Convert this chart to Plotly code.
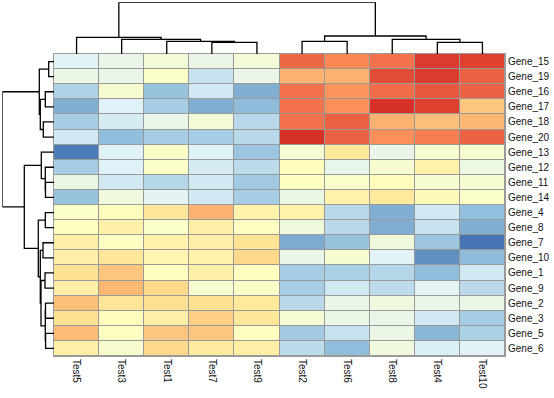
import plotly.graph_objects as go

# ---------------- data ----------------
tests = ["Test5", "Test3", "Test1", "Test7", "Test9",
         "Test2", "Test6", "Test8", "Test4", "Test10"]
genes = ["Gene_15", "Gene_19", "Gene_16", "Gene_17", "Gene_18", "Gene_20",
         "Gene_13", "Gene_12", "Gene_11", "Gene_14", "Gene_4", "Gene_8",
         "Gene_7", "Gene_10", "Gene_1", "Gene_9", "Gene_2", "Gene_3",
         "Gene_5", "Gene_6"]

values = [
    [1.4, 1.8, 2.3, 1.8, 2.3, 7.0, 6.4, 6.8, 7.8, 7.7],     # Gene_15
    [1.9, 1.8, 2.8, 0.8, 1.8, 5.6, 5.6, 7.5, 7.8, 7.1],     # Gene_19
    [0.3, 2.5, -0.2, 1.0, -0.7, 6.8, 6.2, 6.9, 7.3, 7.1],   # Gene_16
    [-0.7, 1.3, 0.1, -0.7, -0.4, 6.8, 6.3, 8.0, 7.7, 5.2],  # Gene_17
    [0.1, 1.1, 1.8, 2.3, 0.5, 6.8, 7.1, 5.6, 5.3, 5.5],     # Gene_18
    [1.0, -0.35, 0.1, 0.1, 0.5, 8.0, 7.1, 6.3, 6.6, 7.1],   # Gene_20
    [-1.8, 1.3, 2.8, 1.3, -0.1, 2.4, 4.3, 1.8, 2.5, 2.5],   # Gene_13
    [0.1, 1.3, 2.8, 1.1, 0.6, 3.1, 1.7, 2.5, 3.7, 2.0],     # Gene_12
    [1.9, 1.0, 0.4, 1.0, 0.0, 2.9, 2.7, 3.1, 2.5, 2.5],     # Gene_11
    [-0.2, 2.1, 1.5, 1.0, 0.1, 1.9, 3.7, 4.2, 3.3, 2.8],    # Gene_14
    [2.8, 3.1, 4.3, 5.6, 3.7, 3.7, 0.5, -0.7, 1.0, -0.3],   # Gene_4
    [3.0, 3.8, 2.8, 3.9, 2.9, 2.1, 0.5, -0.75, 0.8, -0.7],  # Gene_8
    [3.9, 2.9, 3.7, 3.9, 4.5, -0.8, -0.2, 2.2, -0.1, -2.0], # Gene_7
    [3.9, 4.3, 3.5, 3.7, 4.8, 1.8, 2.5, 1.4, -1.4, -0.4],   # Gene_10
    [4.6, 5.2, 3.0, 3.8, 3.0, 0.1, 0.2, 0.4, -0.35, 1.0],   # Gene_1
    [3.9, 5.5, 4.8, 2.5, 2.8, 0.1, 1.0, 0.6, 1.5, 0.5],     # Gene_9
    [5.3, 4.4, 4.6, 4.6, 4.2, 0.5, 1.8, 2.1, 1.8, 1.9],     # Gene_2
    [4.6, 3.1, 3.9, 5.0, 4.3, 2.4, 1.9, 1.8, 1.0, 0.1],     # Gene_3
    [5.4, 2.9, 5.2, 5.2, 3.0, 0.0, 0.8, 1.9, -0.5, 0.2],    # Gene_5
    [3.9, 2.6, 4.8, 4.1, 3.9, 0.6, -0.35, 2.1, 1.2, 1.4],   # Gene_6
]

# hierarchical clustering merges: (left, right, height); ints refer to earlier merges
col_merges = [
    ("Test7", "Test9", 11.7),
    ("Test4", "Test10", 11.7),
    ("Test1", 0, 12.7),
    ("Test2", "Test6", 12.7),
    ("Test3", 2, 14.7),
    ("Test8", 1, 14.7),
    ("Test5", 4, 16.7),
    (3, 5, 18.0),
    (6, 7, 51.7),
]
row_merges = [
    ("Gene_15", "Gene_19", 5.3),
    ("Gene_16", "Gene_17", 8.7),
    ("Gene_18", "Gene_20", 10.7),
    (1, 2, 13.7),
    (0, 3, 14.7),
    ("Gene_11", "Gene_14", 8.5),
    ("Gene_12", 5, 8.7),
    ("Gene_13", 6, 12.7),
    ("Gene_4", "Gene_8", 8.7),
    ("Gene_7", "Gene_10", 11.0),
    ("Gene_1", "Gene_9", 9.0),
    ("Gene_2", "Gene_3", 8.5),
    ("Gene_5", "Gene_6", 8.4),
    (11, 12, 8.7),
    (10, 13, 13.0),
    (9, 14, 13.7),
    (8, 15, 15.7),
    (7, 16, 29.7),
    (4, 17, 51.7),
]

palette = ["#4575B4", "#91BFDB", "#E0F3F8", "#FFFFBF", "#FEE090", "#FC8D59", "#D73027"]
vmin, vmax = -2.0, 8.0


def dendro_segments(merges, leaves):
    pos = {}
    hts = {}
    for i, (a, b, h) in enumerate(merges):
        pa = pos[a] if isinstance(a, int) else leaves.index(a)
        pb = pos[b] if isinstance(b, int) else leaves.index(b)
        ha = hts[a] if isinstance(a, int) else 0.0
        hb = hts[b] if isinstance(b, int) else 0.0
        pos[i] = (pa + pb) / 2.0
        hts[i] = h
        yield (pa, ha), (pa, h), (pb, h), (pb, hb)


def seg_xy(merges, leaves):
    p, q = [], []
    for seg in dendro_segments(merges, leaves):
        for a, b in seg:
            p.append(a)
            q.append(b)
        p.append(None)
        q.append(None)
    return p, q


W, H = 554, 398
gx0, gx1 = 54, 505
gy0, gy1 = 54, 356
dx = [gx0 / W, gx1 / W]
dy = [1 - gy1 / H, 1 - gy0 / H]

n_c, n_r = len(tests), len(genes)
colorscale = [[i / (len(palette) - 1), c] for i, c in enumerate(palette)]

fig = go.Figure()
fig.add_trace(go.Heatmap(
    z=values, x=list(range(n_c)), y=list(range(n_r)),
    colorscale=colorscale, zmin=vmin, zmax=vmax, showscale=False,
    xgap=1, ygap=1, xaxis="x", yaxis="y",
    customdata=[[g] * n_c for g in genes],
    hovertemplate="%{customdata}<br>%{z}<extra></extra>",
))

cp, ch = seg_xy(col_merges, tests)
fig.add_trace(go.Scatter(x=cp, y=ch, mode="lines", xaxis="x2", yaxis="y2",
                         line=dict(color="black", width=1.3), cliponaxis=False,
                         hoverinfo="skip", showlegend=False))
rp, rh = seg_xy(row_merges, genes)
fig.add_trace(go.Scatter(x=rh, y=rp, mode="lines", xaxis="x3", yaxis="y3",
                         line=dict(color="black", width=1.3), cliponaxis=False,
                         hoverinfo="skip", showlegend=False))

col_max = max(m[2] for m in col_merges)
row_max = max(m[2] for m in row_merges)
lab_font = dict(family="Liberation Sans, Arial, sans-serif", size=10, color="#111111")
hidden = dict(visible=False, showgrid=False, zeroline=False, fixedrange=True,
              automargin=False)

fig.update_layout(
    width=W, height=H,
    margin=dict(l=0, r=0, t=0, b=0, autoexpand=False),
    paper_bgcolor="white", plot_bgcolor="white",
    showlegend=False,
    xaxis=dict(domain=dx, range=[-0.5, n_c - 0.5], tickvals=list(range(n_c)),
               ticktext=tests, tickangle=90, ticks="", showgrid=False, zeroline=False,
               showline=True, mirror=True, linecolor="#999999", linewidth=1,
               tickfont=lab_font, anchor="y", fixedrange=True, automargin=False),
    yaxis=dict(domain=dy, range=[n_r - 0.5, -0.5], tickvals=list(range(n_r)),
               ticktext=genes, side="right", ticks="", showgrid=False, zeroline=False,
               showline=True, mirror=True, linecolor="#999999", linewidth=1,
               tickfont=lab_font, anchor="x", fixedrange=True, automargin=False),
    xaxis2=dict(domain=dx, range=[-0.5, n_c - 0.5], anchor="y2", **hidden),
    yaxis2=dict(domain=[dy[1], 1 - 2.3 / H], range=[0, col_max], anchor="x2", **hidden),
    xaxis3=dict(domain=[2.3 / W, gx0 / W], range=[row_max, 0], anchor="y3", **hidden),
    yaxis3=dict(domain=dy, range=[n_r - 0.5, -0.5], anchor="x3", **hidden),
    shapes=[
        dict(type="rect", xref="x domain", yref="y domain", x0=0, x1=1, y0=0, y1=1,
             fillcolor="#999999", line=dict(width=0), layer="below"),
    ],
)

fig.write_html(
    "out.html",
    config={"displayModeBar": False},
    post_script="document.body.style.margin='0';document.body.style.overflow='hidden';",
)
